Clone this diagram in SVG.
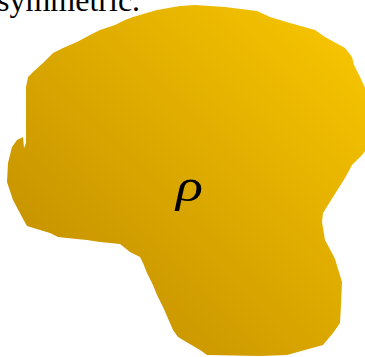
<svg xmlns="http://www.w3.org/2000/svg" width="365" height="357" viewBox="0 0 365 357">
<defs>
<linearGradient id="gold" gradientUnits="userSpaceOnUse" x1="365" y1="0" x2="0" y2="357">
<stop offset="0" stop-color="#FBC900"/>
<stop offset="1" stop-color="#BB8700"/>
</linearGradient>
<style>
.cap{font-family:"Liberation Serif","Times New Roman",serif;font-size:32px;fill:#000}
.sym{font-family:"Liberation Serif","DejaVu Serif",serif;font-style:italic;font-size:46px;fill:#000}
</style>
</defs>
<text class="cap" x="-3" y="11">symmetric.</text>
<g id="blob">
<path fill="url(#gold)" d="M125,20 L133,17 L157,10 L180,6 L195,5 L225,7 L257,11 L270,17 L290,23 L315,30 L325,37 L345,48 L352,57 L354,65 L360,77 L366,90 L366,150 L362,155 L352,165 L345,178 L333,197 L323,213 L322,222 L325,240 L332,253 L335,259 L342,282 L341,305 L340,323 L333,333 L323,345 L287,355 L260,356 L207,355 L200,350 L188,343 L178,337 L173,330 L163,307 L157,295 L153,285 L147,273 L143,263 L140,257 L130,252 L120,244 L100,242 L87,240 L67,238 L58,237 L50,233 L40,230 L27,226 L22,217 L13,200 L7,182 L8,163 L12,147 L17,140 L23,137 L24,148 L26,143 L26,87 L28,77 L33,72 L43,63 L53,53 L63,48 L77,42 L90,35 L100,30 L115,25 Z"/>
<text class="sym" x="176" y="201" textLength="27" lengthAdjust="spacingAndGlyphs">ρ</text>
</g>
</svg>
